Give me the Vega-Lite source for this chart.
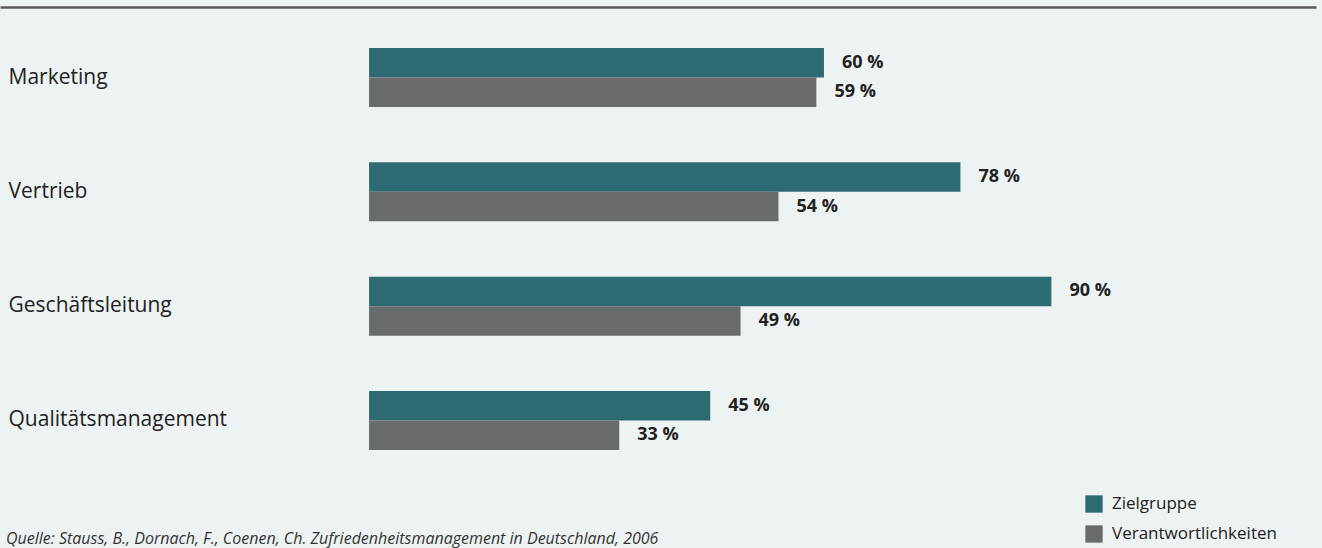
{
  "$schema": "https://vega.github.io/schema/vega-lite/v6.json",
  "autosize": {"type": "none"},
  "width": 1316,
  "height": 484,
  "padding": {"top": 7, "left": 0, "right": 6, "bottom": 57},
  "background": "#edf3f2",
  "config": {"view": {"stroke": null}, "font": "Open Sans"},
  "title": {
    "text": "Quelle: Stauss, B., Dornach, F., Coenen, Ch. Zufriedenheitsmanagement in Deutschland, 2006",
    "orient": "bottom",
    "anchor": "start",
    "frame": "group",
    "offset": 0,
    "dx": 6,
    "dy": -12,
    "font": "Open Sans",
    "fontSize": 16,
    "fontStyle": "italic",
    "fontWeight": "normal",
    "color": "#333333"
  },
  "data": {
    "values": [
      {"bereich": "Marketing", "serie": "Zielgruppe", "wert": 60},
      {"bereich": "Marketing", "serie": "Verantwortlichkeiten", "wert": 59},
      {"bereich": "Vertrieb", "serie": "Zielgruppe", "wert": 78},
      {"bereich": "Vertrieb", "serie": "Verantwortlichkeiten", "wert": 54},
      {"bereich": "Geschäftsleitung", "serie": "Zielgruppe", "wert": 90},
      {"bereich": "Geschäftsleitung", "serie": "Verantwortlichkeiten", "wert": 49},
      {"bereich": "Qualitätsmanagement", "serie": "Zielgruppe", "wert": 45},
      {"bereich": "Qualitätsmanagement", "serie": "Verantwortlichkeiten", "wert": 33}
    ]
  },
  "transform": [{"calculate": "datum.wert + ' %'", "as": "label"}],
  "encoding": {
    "y": {
      "field": "bereich",
      "type": "nominal",
      "sort": ["Marketing", "Vertrieb", "Geschäftsleitung", "Qualitätsmanagement"],
      "scale": {"paddingInner": 0.484, "paddingOuter": 0.359},
      "axis": {
        "orient": "left",
        "title": null,
        "domain": false,
        "ticks": false,
        "labelAlign": "left",
        "labelBaseline": "middle",
        "labelPadding": -8,
        "labelLimit": 0,
        "labelFont": "Open Sans",
        "labelFontSize": 21,
        "labelColor": "#222222"
      }
    },
    "yOffset": {
      "field": "serie",
      "type": "nominal",
      "sort": ["Zielgruppe", "Verantwortlichkeiten"],
      "scale": {"paddingInner": 0, "paddingOuter": 0}
    },
    "x": {
      "field": "wert",
      "type": "quantitative",
      "scale": {"domain": [-48.68, 124.9], "nice": false, "zero": false},
      "axis": {
        "orient": "top",
        "title": null,
        "labels": false,
        "ticks": false,
        "grid": false,
        "domain": true,
        "domainColor": "#5a5a5a",
        "domainWidth": 2.5
      }
    }
  },
  "layer": [
    {
      "mark": {"type": "bar"},
      "encoding": {
        "x2": {"datum": 0},
        "color": {
          "field": "serie",
          "type": "nominal",
          "sort": ["Zielgruppe", "Verantwortlichkeiten"],
          "scale": {"domain": ["Zielgruppe", "Verantwortlichkeiten"], "range": ["#2e6a72", "#696c6f"]},
          "legend": {
            "title": null,
            "orient": "none",
            "legendX": 1085,
            "legendY": 488,
            "symbolType": "square",
            "symbolSize": 300,
            "symbolStrokeWidth": 0,
            "labelFont": "Open Sans",
            "labelFontSize": 17,
            "labelLimit": 0,
            "labelColor": "#222222",
            "labelOffset": 9,
            "rowPadding": 12
          }
        }
      }
    },
    {
      "mark": {
        "type": "text",
        "align": "left",
        "baseline": "middle",
        "dx": 18,
        "font": "Open Sans",
        "fontSize": 18,
        "fontWeight": "bold",
        "color": "#222222"
      },
      "encoding": {"text": {"field": "label"}}
    }
  ]
}
